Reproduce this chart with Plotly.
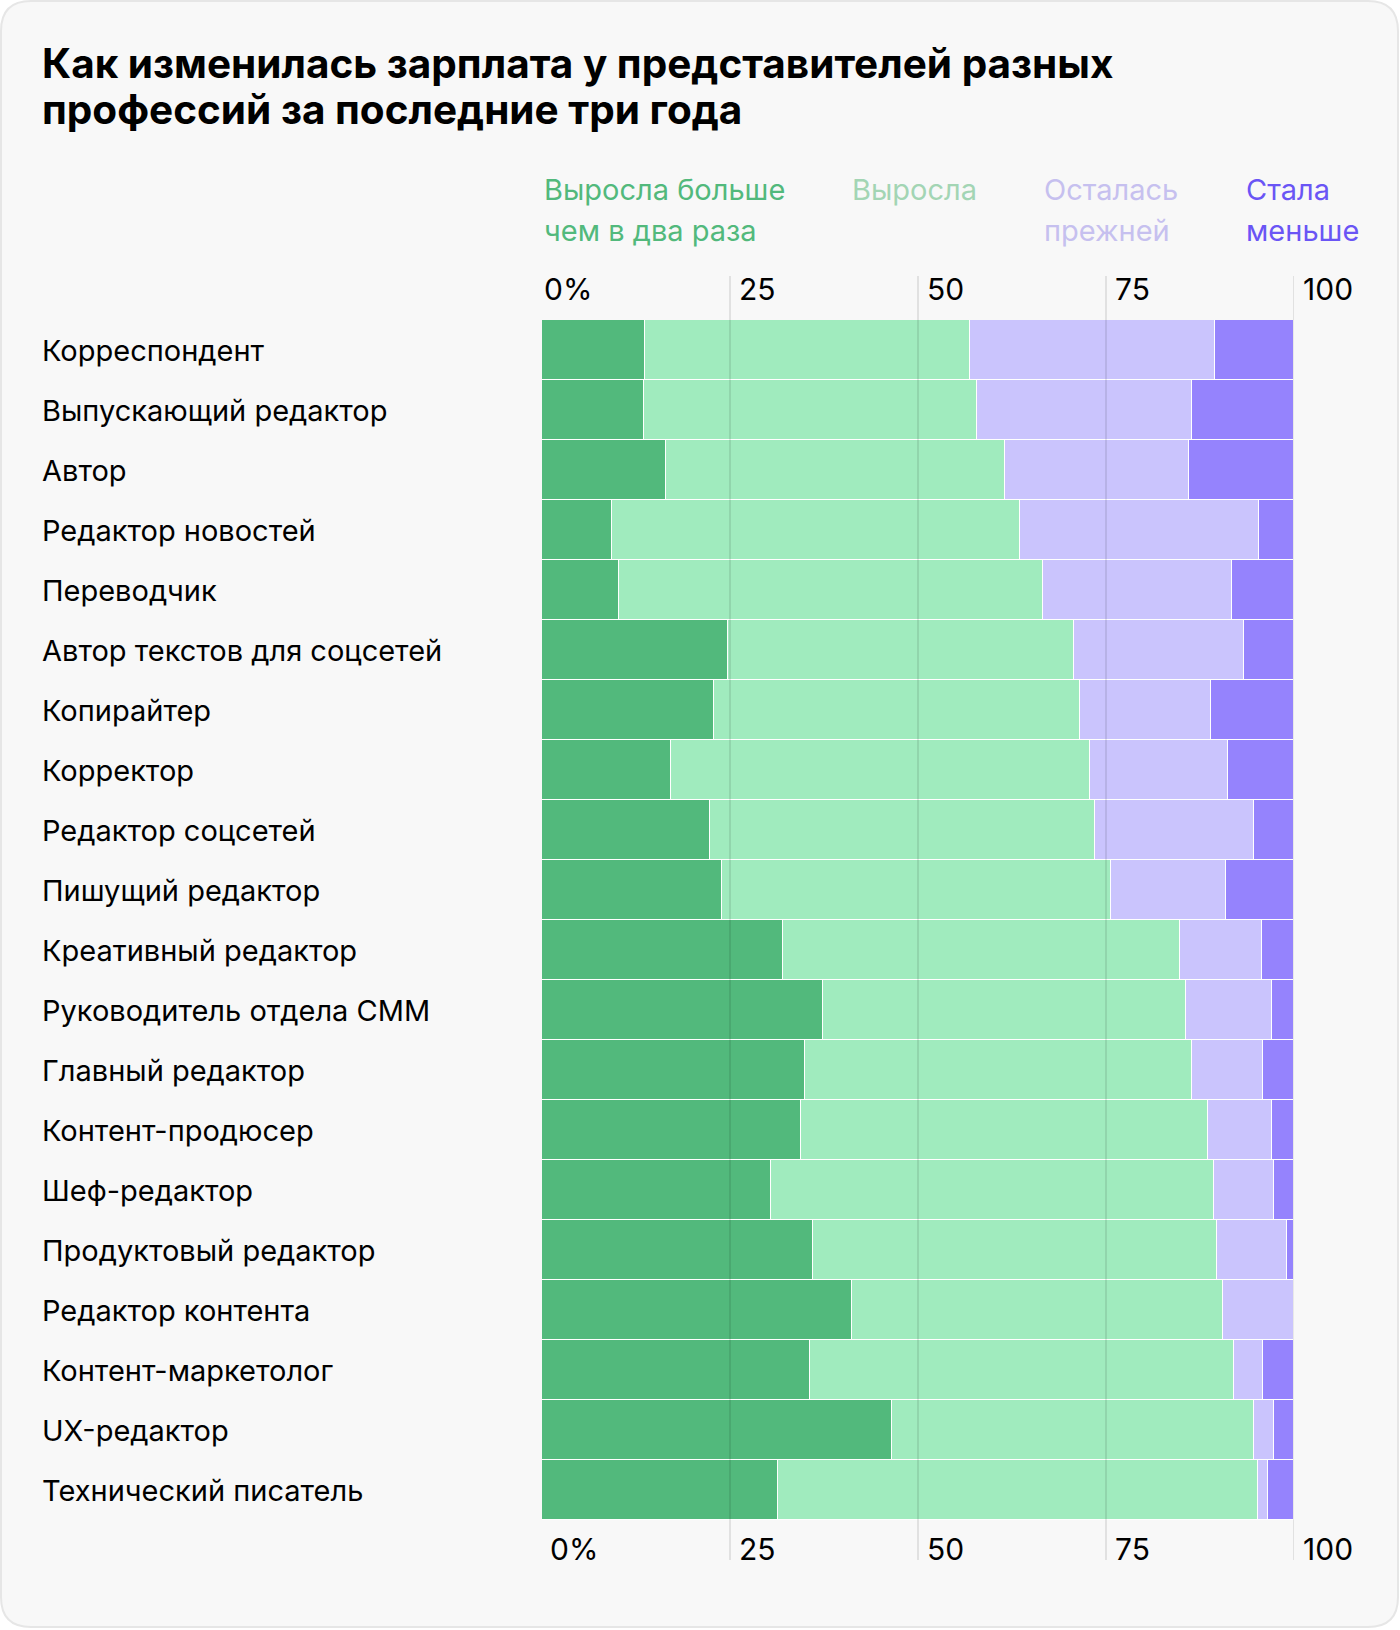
import plotly.graph_objects as go

categories = ["Корреспондент", "Выпускающий редактор", "Автор", "Редактор новостей", "Переводчик",
              "Автор текстов для соцсетей", "Копирайтер", "Корректор", "Редактор соцсетей",
              "Пишущий редактор", "Креативный редактор", "Руководитель отдела СММ", "Главный редактор",
              "Контент-продюсер", "Шеф-редактор", "Продуктовый редактор", "Редактор контента",
              "Контент-маркетолог", "UX-редактор", "Технический писатель"]

grew_twice = [13.7, 13.5, 16.5, 9.3, 10.3, 24.7, 22.9, 17.1, 22.4, 24.0, 32.0, 37.4, 35.0, 34.4, 30.5, 36.1, 41.2, 35.7, 46.5, 31.4]
grew = [43.2, 44.3, 45.1, 54.2, 56.3, 46.1, 48.6, 55.8, 51.2, 51.6, 52.9, 48.2, 51.4, 54.1, 58.8, 53.6, 49.4, 56.3, 48.2, 63.8]
same = [32.6, 28.7, 24.4, 31.9, 25.2, 22.5, 17.5, 18.3, 21.1, 15.4, 10.8, 11.5, 9.5, 8.6, 8.0, 9.4, 9.4, 3.9, 2.6, 1.4]
less = [10.5, 13.5, 14.0, 4.6, 8.2, 6.7, 11.0, 8.8, 5.3, 9.0, 4.3, 2.9, 4.1, 2.9, 2.7, 0.9, 0.0, 4.1, 2.7, 3.4]

series_names = ["Выросла больше чем в два раза", "Выросла", "Осталась прежней", "Стала меньше"]
legend_lines = [["Выросла больше", "чем в два раза"], ["Выросла"], ["Осталась", "прежней"], ["Стала", "меньше"]]
title_lines = ["Как изменилась зарплата у представителей разных", "профессий за последние три года"]
tick_values = [0, 25, 50, 75, 100]
tick_labels = ["0%", "25", "50", "75", "100"]

bar_colors = ["#52b97c", "#a0ebbe", "#cac4fd", "#9583fd"]
text_colors = ["#52b97c", "#a3d5b4", "#c6c0ef", "#6a55f5"]

W_FIG, H_FIG = 1400, 1630
L, R, T, B = 542, 106, 320, 110
PW = W_FIG - L - R
PH = H_FIG - T - B


def xp(px):
    return (px - L) / PW


def yp(py):
    return 1 - (py - T) / PH


FONT = "Inter, 'Noto Sans', sans-serif"

fig = go.Figure()
for name, vals, col in zip(series_names, [grew_twice, grew, same, less], bar_colors):
    fig.add_trace(go.Bar(
        y=categories, x=vals, name=name, orientation="h",
        marker=dict(color=col, line=dict(color="white", width=1)),
        hoverinfo="x+y+name",
    ))

shapes = []
# card background with rounded corners
x0, y0, x1, y1, r = 1, 1, 1398, 1627, 30
path = (f"M {xp(x0 + r)},{yp(y0)} L {xp(x1 - r)},{yp(y0)} Q {xp(x1)},{yp(y0)} {xp(x1)},{yp(y0 + r)} "
        f"L {xp(x1)},{yp(y1 - r)} Q {xp(x1)},{yp(y1)} {xp(x1 - r)},{yp(y1)} "
        f"L {xp(x0 + r)},{yp(y1)} Q {xp(x0)},{yp(y1)} {xp(x0)},{yp(y1 - r)} "
        f"L {xp(x0)},{yp(y0 + r)} Q {xp(x0)},{yp(y0)} {xp(x0 + r)},{yp(y0)} Z")
shapes.append(dict(type="path", path=path, xref="paper", yref="paper", layer="below",
                   fillcolor="#f8f8f8", line=dict(color="#e6e6e6", width=2)))
# gridlines on top of bars
for v in tick_values[1:]:
    shapes.append(dict(type="line", xref="x", yref="paper", x0=v, x1=v,
                       y0=yp(1560), y1=yp(276), layer="above",
                       line=dict(color="rgba(0,0,0,0.12)", width=1.5)))

annotations = []
for i, tl in enumerate(title_lines):
    annotations.append(dict(
        text=tl, xref="paper", yref="paper", x=xp(40), y=yp(63 + 47 * i),
        xanchor="left", yanchor="middle", showarrow=False,
        font=dict(family=FONT, size=40.5, color="#000000", weight=700)))

legend_x = [542, 850, 1042, 1244]
for lines, lx, tc in zip(legend_lines, legend_x, text_colors):
    for i, ln in enumerate(lines):
        annotations.append(dict(text=ln, xref="paper", yref="paper", x=xp(lx), y=yp(190 + 40 * i),
                                xanchor="left", yanchor="middle", showarrow=False,
                                font=dict(family=FONT, size=29, color=tc)))

for v, lab in zip(tick_values, tick_labels):
    for ypx, sh in [(289, 0 if v == 0 else 7), (1549, 6 if v == 0 else 7)]:
        annotations.append(dict(text=lab, xref="x", yref="paper", x=v, xshift=sh, y=yp(ypx),
                                xanchor="left", yanchor="middle", showarrow=False,
                                font=dict(family=FONT, size=30, color="#000000")))

for cat in categories:
    annotations.append(dict(text=cat, xref="paper", yref="y", x=xp(40), y=cat,
                            xanchor="left", yanchor="middle", showarrow=False,
                            font=dict(family=FONT, size=29, color="#000000")))

fig.update_layout(
    width=W_FIG, height=H_FIG,
    margin=dict(l=L, r=R, t=T, b=B, pad=0),
    barmode="stack", bargap=0,
    paper_bgcolor="#ffffff", plot_bgcolor="rgba(0,0,0,0)",
    showlegend=False,
    xaxis=dict(range=[0, 100], showgrid=False, zeroline=False, showticklabels=False,
               showline=False, fixedrange=True),
    yaxis=dict(categoryorder="array", categoryarray=categories, autorange="reversed",
               showgrid=False, zeroline=False, showticklabels=False, showline=False, fixedrange=True),
    shapes=shapes, annotations=annotations,
    font=dict(family=FONT),
)

fig.write_html("out.html", config={"displayModeBar": False},
               post_script="document.body.style.margin='0';document.body.style.overflow='hidden';")
